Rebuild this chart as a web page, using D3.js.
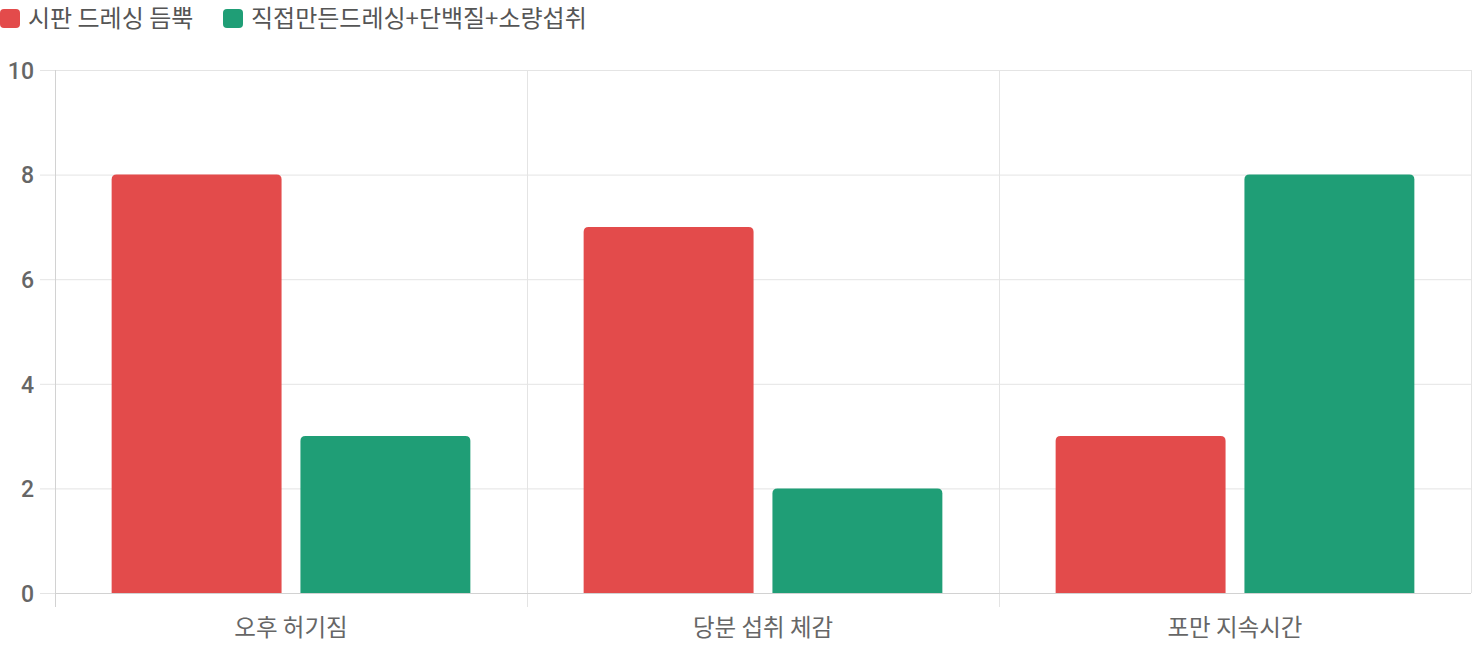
<!DOCTYPE html>
<html>
<head>
<meta charset="utf-8">
<script src="https://cdn.jsdelivr.net/npm/d3@7"></script>
<style>
  html, body { margin: 0; padding: 0; background: #fff; }
  svg { display: block; font-family: "Noto Sans CJK KR", "Noto Sans", sans-serif; }
</style>
</head>
<body>
<div id="chart"></div>
<script>
const categories = ['오후 허기짐', '당분 섭취 체감', '포만 지속시간'];
const seriesNames = ['시판 드레싱 듬뿍', '직접만든드레싱+단백질+소량섭취'];
const storeBought = [8, 7, 3];
const homemade = [3, 2, 8];
const yTicks = [0, 2, 4, 6, 8, 10];

const RED = '#e34b4b';
const GREEN = '#1f9e76';
const GRID = '#e4e4e4';
const AXIS = '#d2d2d2';

const width = 1472;
const height = 650;
const margin = { left: 55, right: 1, top: 70, bottom: 57 };

const svg = d3.select('#chart').append('svg')
  .attr('width', width)
  .attr('height', height);

const innerW = width - margin.left - margin.right;
const innerH = height - margin.top - margin.bottom;

const x = d3.scaleBand()
  .domain(categories)
  .range([0, innerW])
  .paddingInner(0)
  .paddingOuter(0);

// chart.js style: categoryPercentage 0.8, barPercentage 0.9
const xSub = d3.scaleBand()
  .domain(seriesNames)
  .range([x.bandwidth() * 0.1, x.bandwidth() * 0.9])
  .paddingInner(0.1)
  .paddingOuter(0.05);

const y = d3.scaleLinear()
  .domain([0, 10])
  .range([innerH, 0]);

const g = svg.append('g')
  .attr('transform', `translate(${margin.left}, ${margin.top})`);

// horizontal grid + ticks
const leftAxis = d3.axisLeft(y)
  .tickValues(yTicks)
  .tickSize(-innerW);

const yAxisG = g.append('g').call(leftAxis);
yAxisG.select('.domain').remove();
yAxisG.selectAll('.tick line')
  .attr('x1', -15)
  .attr('stroke', GRID);
yAxisG.selectAll('.tick text')
  .attr('x', -21)
  .attr('dy', '0.36em')
  .attr('fill', '#666')
  .attr('font-size', 23)
  .attr('font-weight', 500)
  .attr('font-family', 'Roboto, "Noto Sans", sans-serif');

// vertical grid lines at category boundaries
const bounds = categories.map(c => x(c)).concat([innerW]);
g.selectAll('.vgrid')
  .data(bounds)
  .enter()
  .append('line')
  .attr('class', 'vgrid')
  .attr('x1', d => Math.round(d) + 0.5)
  .attr('x2', d => Math.round(d) + 0.5)
  .attr('y1', 0)
  .attr('y2', (d, i) => (i < categories.length ? innerH + 14 : innerH))
  .attr('stroke', (d, i) => (i === 0 ? AXIS : GRID));

// bottom axis line
g.append('line')
  .attr('x1', 0)
  .attr('x2', innerW)
  .attr('y1', innerH + 0.5)
  .attr('y2', innerH + 0.5)
  .attr('stroke', AXIS);

// category labels
g.selectAll('.xlabel')
  .data(categories)
  .enter()
  .append('text')
  .attr('class', 'xlabel')
  .attr('x', d => x(d) + x.bandwidth() / 2)
  .attr('y', innerH + 43)
  .attr('text-anchor', 'middle')
  .attr('fill', '#666')
  .attr('font-size', 23.5)
  .text(d => d);

// rounded top bar path
function barPath(x0, y0, w, h, r) {
  r = Math.min(r, h, w / 2);
  return `M${x0},${y0 + h}` +
    `V${y0 + r}` +
    `Q${x0},${y0} ${x0 + r},${y0}` +
    `H${x0 + w - r}` +
    `Q${x0 + w},${y0} ${x0 + w},${y0 + r}` +
    `V${y0 + h}Z`;
}

const rows = categories.map((c, i) => ({
  cat: c,
  values: [
    { name: seriesNames[0], v: storeBought[i], color: RED },
    { name: seriesNames[1], v: homemade[i], color: GREEN }
  ]
}));

const groups = g.selectAll('.cat')
  .data(rows)
  .enter()
  .append('g')
  .attr('class', 'cat')
  .attr('transform', d => `translate(${x(d.cat)}, 0)`);

groups.selectAll('path')
  .data(d => d.values)
  .enter()
  .append('path')
  .attr('fill', d => d.color)
  .attr('d', d => barPath(xSub(d.name), y(d.v), xSub.bandwidth(), innerH - y(d.v), 5));

// legend
const legend = svg.append('g').attr('transform', 'translate(0, 8)');
const legendX = [0, 223];
seriesNames.forEach((name, i) => {
  const item = legend.append('g').attr('transform', `translate(${legendX[i]}, 0)`);
  item.append('rect')
    .attr('y', 1)
    .attr('width', 20)
    .attr('height', 19)
    .attr('rx', 4)
    .attr('fill', i === 0 ? RED : GREEN);
  item.append('text')
    .attr('x', 28)
    .attr('y', 19)
    .attr('fill', '#555')
    .attr('font-size', 24)
    .text(name);
});
</script>
</body>
</html>
